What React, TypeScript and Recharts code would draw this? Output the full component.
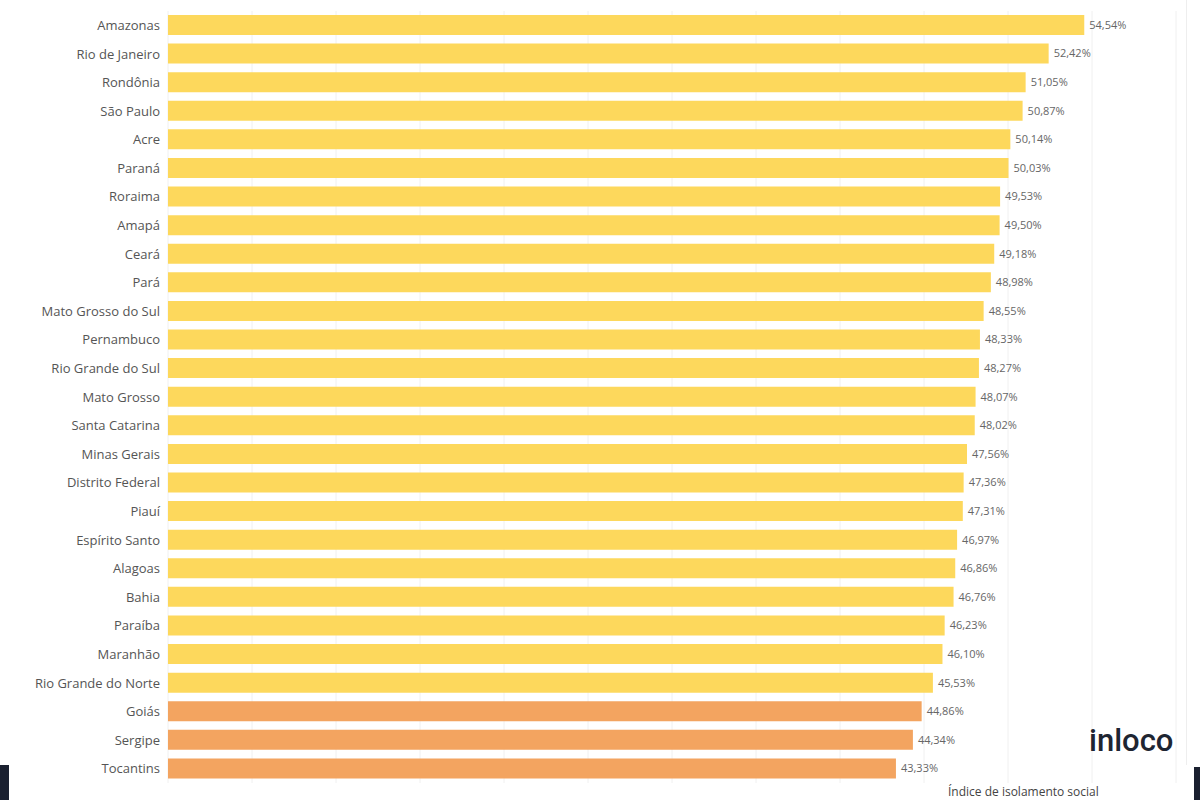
import React from 'react';
import { BarChart, Bar, XAxis, YAxis, CartesianGrid, LabelList, Cell } from 'recharts';

const states = [
  'Amazonas', 'Rio de Janeiro', 'Rondônia', 'São Paulo', 'Acre', 'Paraná', 'Roraima', 'Amapá', 'Ceará', 'Pará',
  'Mato Grosso do Sul', 'Pernambuco', 'Rio Grande do Sul', 'Mato Grosso', 'Santa Catarina', 'Minas Gerais',
  'Distrito Federal', 'Piauí', 'Espírito Santo', 'Alagoas', 'Bahia', 'Paraíba', 'Maranhão', 'Rio Grande do Norte',
  'Goiás', 'Sergipe', 'Tocantins',
];

const isolation = [
  54.54, 52.42, 51.05, 50.87, 50.14, 50.03, 49.53, 49.5, 49.18, 48.98,
  48.55, 48.33, 48.27, 48.07, 48.02, 47.56,
  47.36, 47.31, 46.97, 46.86, 46.76, 46.23, 46.1, 45.53,
  44.86, 44.34, 43.33,
];

const gridTicks = [0, 5, 10, 15, 20, 25, 30, 35, 40, 45, 50, 55, 60];

const YELLOW = '#FDD85C';
const ORANGE = '#F3A460';

const data = states.map((state, i) => ({ state, value: isolation[i] }));

const fmt = (v: any) => `${Number(v).toFixed(2).replace('.', ',')}%`;

const App: React.FC = () => {
  return (
    <div style={{ position: 'absolute', left: 0, top: 0, width: 1200, height: 800, overflow: 'hidden', background: '#fff', fontFamily: '"Open Sans", sans-serif' }}>
      <BarChart
        width={1200}
        height={800}
        data={data}
        layout="vertical"
        margin={{ top: 11, right: 24, bottom: 17, left: 0 }}
        barSize={20}
      >
        <CartesianGrid horizontal={false} stroke="#f0f0f0" />
        <XAxis type="number" domain={[0, 60]} ticks={gridTicks} hide />
        <YAxis
          type="category"
          dataKey="state"
          width={168}
          interval={0}
          axisLine={false}
          tickLine={false}
          tick={{ fill: '#555', fontSize: 13 }}
        />
        <Bar dataKey="value" isAnimationActive={false}>
          {data.map((d, i) => (
            <Cell key={d.state} fill={i >= 24 ? ORANGE : YELLOW} />
          ))}
          <LabelList dataKey="value" position="right" offset={5} formatter={fmt} fill="#666" fontSize={11} />
        </Bar>
      </BarChart>
      <div style={{ position: 'absolute', left: 1089, top: 722, fontSize: 31, fontWeight: 500, fontFamily: 'Roboto, sans-serif', color: '#1e2532' }}>
        inloco
      </div>
      <div style={{ position: 'absolute', left: 948, top: 785, fontSize: 12, lineHeight: '14px', color: '#444' }}>
        Índice de isolamento social
      </div>
      <div style={{ position: 'absolute', left: 0, top: 765, width: 9, height: 35, background: '#1a2030' }} />
      <div style={{ position: 'absolute', left: 1194, top: 767, width: 6, height: 33, background: '#1a2030' }} />
      <div style={{ position: 'absolute', left: 1186, top: 0, width: 1, height: 765, background: '#eee' }} />
    </div>
  );
};

export default App;
